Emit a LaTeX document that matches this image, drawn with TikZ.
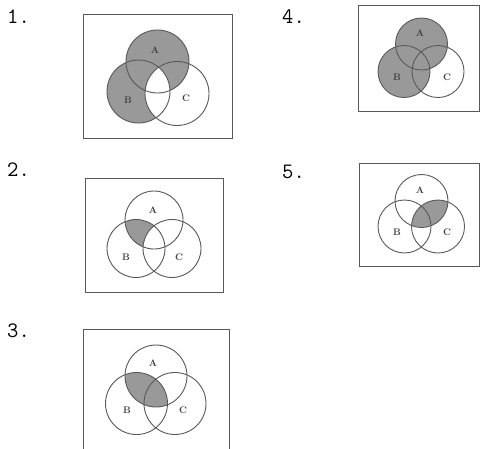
\documentclass[tikz,border=0pt]{standalone}
\begin{document}
\begin{tikzpicture}[x=1pt,y=-1pt,
  frame/.style={draw=black!65,line width=1pt},
  ring/.style={draw=black!65,line width=0.9pt},
  shade/.style={fill=black!40},
  lbl/.style={font=\fontsize{9.5}{10}\selectfont\bfseries,text=black!75,inner sep=0pt},
  num/.style={font=\fontsize{22}{24}\ttfamily,anchor=north west,inner sep=0pt}]
\useasboundingbox[fill=white] (0,0) rectangle (481,448);

% ---------- 1 ----------
\node[num] (n1) at (7,10) {1.};
\draw[frame] (83,14) rectangle (232,138);
\fill[shade] (157.5,61.5) circle (31.5);
\fill[shade] (138.5,91.5) circle (31.5);
\begin{scope}
  \clip (138.5,91.5) circle (31.5);
  \fill[white] (177,93.5) circle (32);
\end{scope}
\draw[ring] (157.5,61.5) circle (31.5);
\draw[ring] (138.5,91.5) circle (31.5);
\draw[ring] (177,93.5) circle (32);
\node[lbl] (a1) at (155,50) {A};
\node[lbl] (b1) at (128,100) {B};
\node[lbl] (c1) at (186,98) {C};

% ---------- 2 ----------
\node[num] (n2) at (7,163) {2.};
\draw[frame] (85,178) rectangle (223,292);
\begin{scope}
  \clip (154,220) circle (29);
  \fill[shade] (136,248.5) circle (29);
\end{scope}
\begin{scope}
  \clip (154,220) circle (29);
  \fill[white] (172,248.5) circle (29);
\end{scope}
\draw[ring] (154,220) circle (29);
\draw[ring] (136,248.5) circle (29);
\draw[ring] (172,248.5) circle (29);
\node[lbl] (a2) at (153,210) {A};
\node[lbl] (b2) at (126,257) {B};
\node[lbl] (c2) at (179,257) {C};

% ---------- 3 ----------
\node[num] (n3) at (7,324) {3.};
\draw[frame] (83,329) -- (83,449) (83,329) -- (229,329) -- (229,449);
\begin{scope}
  \clip (156,376) circle (31);
  \fill[shade] (136.5,403.5) circle (31);
\end{scope}
\draw[ring] (156,376) circle (31);
\draw[ring] (136.5,403.5) circle (31);
\draw[ring] (175,403.5) circle (31);
\node[lbl] (a3) at (153,363) {A};
\node[lbl] (b3) at (127,410) {B};
\node[lbl] (c3) at (183,410) {C};

% ---------- 4 ----------
\node[num] (n4) at (282,10) {4.};
\draw[frame] (358,5) rectangle (479.5,111.5);
\fill[shade] (421.5,44) circle (26);
\fill[shade] (404,71.5) circle (26);
\draw[ring] (421.5,44) circle (26);
\draw[ring] (404,71.5) circle (26);
\draw[ring] (438,71.5) circle (26);
\node[lbl] (a4) at (420,33) {A};
\node[lbl] (b4) at (397,77) {B};
\node[lbl] (c4) at (447,77) {C};

% ---------- 5 ----------
\node[num] (n5) at (282,165) {5.};
\draw[frame] (359,163) rectangle (479.5,266);
\begin{scope}
  \clip (421.5,201) circle (26.5);
  \fill[shade] (438,226.5) circle (26.5);
\end{scope}
\draw[ring] (421.5,201) circle (26.5);
\draw[ring] (404.5,226.5) circle (26.5);
\draw[ring] (438,226.5) circle (26.5);
\node[lbl] (a5) at (420,190) {A};
\node[lbl] (b5) at (397,232) {B};
\node[lbl] (c5) at (447,232) {C};
\end{tikzpicture}
\end{document}
